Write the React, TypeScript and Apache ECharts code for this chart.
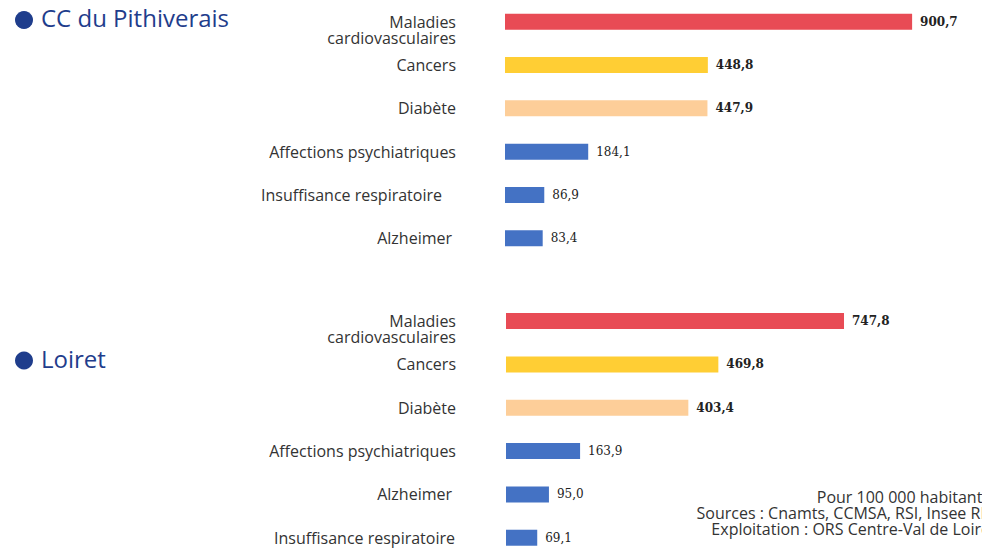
import React, { useEffect, useRef } from "react";
import * as echarts from "echarts";

const topTitle = "CC du Pithiverais";
const bottomTitle = "Loiret";
const topCategories = [
  "Maladies\ncardiovasculaires",
  "Cancers",
  "Diabète",
  "Affections psychiatriques",
  "Insuffisance respiratoire",
  "Alzheimer",
];
const topValues = [900.7, 448.8, 447.9, 184.1, 86.9, 83.4];
const bottomCategories = [
  "Maladies\ncardiovasculaires",
  "Cancers",
  "Diabète",
  "Affections psychiatriques",
  "Alzheimer",
  "Insuffisance respiratoire",
];
const bottomValues = [747.8, 469.8, 403.4, 163.9, 95.0, 69.1];
const footnotes = [
  "Pour 100 000 habitants",
  "Sources : Cnamts, CCMSA, RSI, Insee RP",
  "Exploitation : ORS Centre-Val de Loire",
];

const RED = "#E84B55";
const YELLOW = "#FFCE34";
const PEACH = "#FDCE99";
const BLUE = "#4472C4";
const barColors = [RED, YELLOW, PEACH, BLUE, BLUE, BLUE];
const TITLE_COLOR = "#1F3D8C";
const TEXT_COLOR = "#333333";

const labelPad: Record<string, number[]> = {
  "Alzheimer": [0, 4, 0, 0],
};

function catData(cats: string[], insuffPad: number) {
  return cats.map((c) => {
    let pad = labelPad[c] || [0, 0, 0, 0];
    if (c === "Insuffisance respiratoire") pad = [0, insuffPad, 0, 0];
    return { value: c, textStyle: { padding: pad } };
  });
}

function barData(vals: number[]) {
  return vals.map((v, i) => ({
    value: v,
    itemStyle: { color: barColors[i] },
    label: { fontWeight: i < 3 ? "bold" : "normal" },
  }));
}

const fmt = (v: number) => v.toFixed(1).replace(".", ",");

export default function App() {
  const ref = useRef<HTMLDivElement>(null);
  useEffect(() => {
    if (!ref.current) return;
    const chart = echarts.init(ref.current, null, { renderer: "svg" });
    const yAxisCommon = {
      type: "category" as const,
      inverse: true,
      axisLine: { show: false },
      axisTick: { show: false },
      splitLine: { show: false },
      axisLabel: {
        fontFamily: "Open Sans",
        fontSize: 16,
        color: TEXT_COLOR,
        lineHeight: 16,
        align: "right" as const,
        formatter: (v: string) => (v.indexOf("\n") >= 0 ? "\n" + v : v),
      },
    };
    const xAxisCommon = {
      type: "value" as const,
      min: 0,
      max: 1000,
      show: false,
    };
    const seriesLabel = {
      show: true,
      position: "right" as const,
      distance: 8,
      fontFamily: "DejaVu Serif",
      fontSize: 12,
      color: "#222222",
      formatter: (p: any) => fmt(p.value),
    };
    chart.setOption({
      animation: false,
      grid: [
        { left: 505, top: 0, width: 452, height: 260, outerBoundsMode: "none", containLabel: false },
        { left: 506, top: 299.4, width: 452, height: 260, outerBoundsMode: "none", containLabel: false },
      ],
      xAxis: [
        { ...xAxisCommon, gridIndex: 0 },
        { ...xAxisCommon, gridIndex: 1 },
      ],
      yAxis: [
        {
          ...yAxisCommon,
          gridIndex: 0,
          data: catData(topCategories, 14),
          axisLabel: { ...yAxisCommon.axisLabel, margin: 49 },
        },
        {
          ...yAxisCommon,
          gridIndex: 1,
          data: catData(bottomCategories, 1),
          axisLabel: { ...yAxisCommon.axisLabel, margin: 50 },
        },
      ],
      series: [
        {
          type: "bar",
          xAxisIndex: 0,
          yAxisIndex: 0,
          barWidth: 16,
          data: barData(topValues),
          label: seriesLabel,
        },
        {
          type: "bar",
          xAxisIndex: 1,
          yAxisIndex: 1,
          barWidth: 16,
          data: barData(bottomValues),
          label: seriesLabel,
        },
      ],
      graphic: [
        { type: "circle", shape: { cx: 24, cy: 20, r: 9 }, style: { fill: TITLE_COLOR } },
        {
          type: "text",
          x: 41,
          y: 17,
          style: {
            text: topTitle,
            fill: TITLE_COLOR,
            font: "24px 'Open Sans'",
            verticalAlign: "middle",
          },
        },
        { type: "circle", shape: { cx: 24, cy: 360.5, r: 9 }, style: { fill: TITLE_COLOR } },
        {
          type: "text",
          x: 41,
          y: 358,
          style: {
            text: bottomTitle,
            fill: TITLE_COLOR,
            font: "24px 'Open Sans'",
            verticalAlign: "middle",
          },
        },
        ...footnotes.map((t, i) => ({
          type: "text",
          x: 990,
          y: 496.5 + i * 16,
          style: {
            text: t,
            fill: TEXT_COLOR,
            font: "16px 'Open Sans'",
            lineHeight: 16,
            align: "right",
            verticalAlign: "middle",
          },
        })),
      ],
    });
    return () => chart.dispose();
  }, []);
  return (
    <div
      style={{
        position: "absolute",
        left: 0,
        top: 0,
        width: 982,
        height: 549,
        overflow: "hidden",
        background: "#fff",
      }}
    >
      <div ref={ref} style={{ width: 982, height: 572 }} />
    </div>
  );
}
